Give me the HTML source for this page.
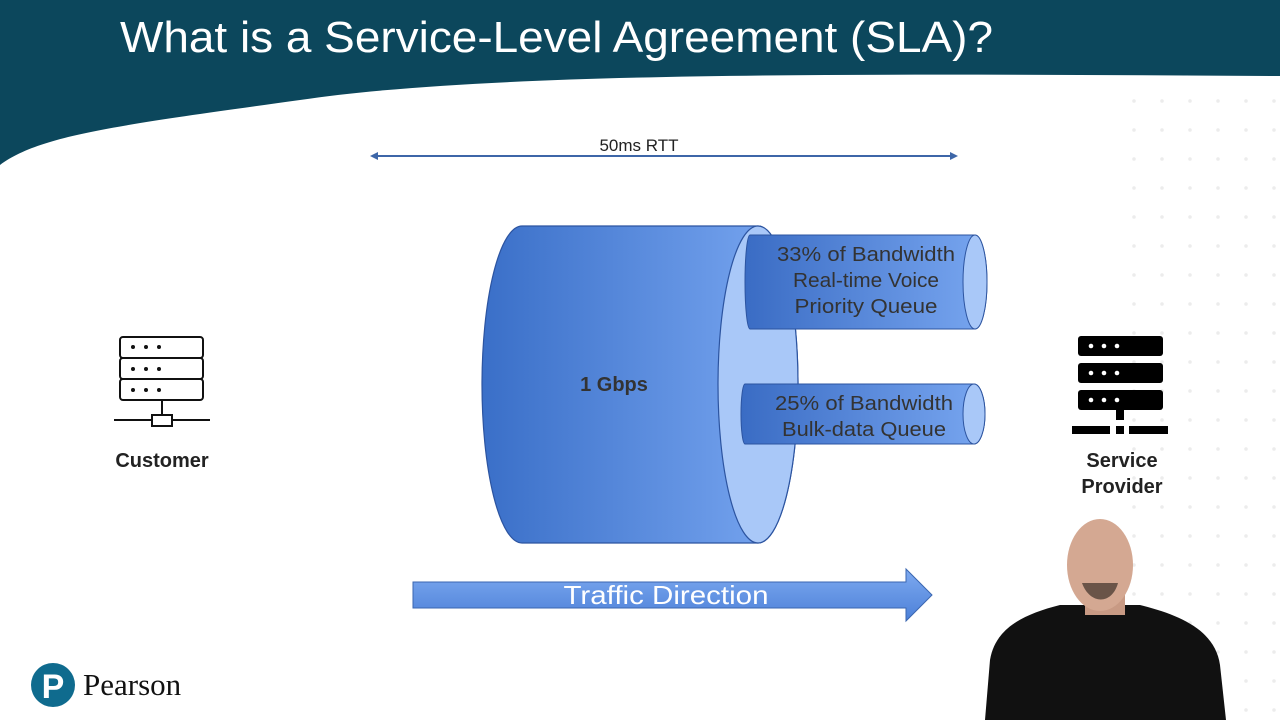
<!DOCTYPE html>
<html><head><meta charset="utf-8"><style>
html,body{margin:0;padding:0;width:1280px;height:720px;overflow:hidden;background:#fff}
text{font-family:"Liberation Sans",sans-serif}
</style></head><body>
<svg width="1280" height="720" viewBox="0 0 1280 720" xmlns="http://www.w3.org/2000/svg">
<defs>
<linearGradient id="g1" x1="0" x2="1" y1="0" y2="0"><stop offset="0" stop-color="#3a6fc8"/><stop offset="1" stop-color="#7aa8f2"/></linearGradient>
<linearGradient id="g2" x1="0" x2="1" y1="0" y2="0"><stop offset="0" stop-color="#3a6cc4"/><stop offset="1" stop-color="#78a6f0"/></linearGradient>
<linearGradient id="ga" x1="0" x2="0" y1="0" y2="1"><stop offset="0" stop-color="#7eaaf0"/><stop offset="1" stop-color="#4c80d8"/></linearGradient>
<pattern id="dots" width="28" height="29" patternUnits="userSpaceOnUse"><circle cx="14" cy="14" r="1.8" fill="#ececec"/></pattern>
</defs>
<rect x="1130" y="90" width="150" height="630" fill="url(#dots)"/>
<path d="M0,0 H1280 V76 C900,74 500,70 300,100 C120,125 40,135 0,165 Z" fill="#0c475c"/>
<text x="120" y="52" font-size="44" fill="#fff" textLength="873" lengthAdjust="spacingAndGlyphs">What is a Service-Level Agreement (SLA)?</text>
<line x1="376" y1="156" x2="952" y2="156" stroke="#3d66a8" stroke-width="2"/>
<polygon points="370,156 378,152 378,160" fill="#3d66a8"/>
<polygon points="958,156 950,152 950,160" fill="#3d66a8"/>
<text x="639" y="151" font-size="17" fill="#222" text-anchor="middle">50ms RTT</text>
<path d="M522,226 L758,226 A40,158.5 0 0 1 758,543 L522,543 A40,158.5 0 0 1 522,226 Z" fill="url(#g1)" stroke="#2c54a0" stroke-width="1.2"/>
<ellipse cx="758" cy="384.5" rx="40" ry="158.5" fill="#a9c8f8" stroke="#2c54a0" stroke-width="1.2"/>
<text x="614" y="391" font-size="20" font-weight="bold" fill="#333" text-anchor="middle">1 Gbps</text>
<path d="M750,235 L975,235 A12,47 0 0 1 975,329 L750,329 A5,47 0 0 1 750,235 Z" fill="url(#g2)" stroke="#2c54a0" stroke-width="1"/>
<ellipse cx="975" cy="282" rx="12" ry="47" fill="#a9c8f8" stroke="#2c54a0" stroke-width="1"/>
<text x="866" y="261" font-size="20" fill="#333" text-anchor="middle" textLength="178" lengthAdjust="spacingAndGlyphs">33% of Bandwidth</text>
<text x="866" y="287" font-size="20" fill="#333" text-anchor="middle" textLength="146" lengthAdjust="spacingAndGlyphs">Real-time Voice</text>
<text x="866" y="313" font-size="20" fill="#333" text-anchor="middle" textLength="143" lengthAdjust="spacingAndGlyphs">Priority Queue</text>
<path d="M745,384 L974,384 A11,30 0 0 1 974,444 L745,444 A4,30 0 0 1 745,384 Z" fill="url(#g2)" stroke="#2c54a0" stroke-width="1"/>
<ellipse cx="974" cy="414" rx="11" ry="30" fill="#a9c8f8" stroke="#2c54a0" stroke-width="1"/>
<text x="864" y="410" font-size="20" fill="#333" text-anchor="middle" textLength="178" lengthAdjust="spacingAndGlyphs">25% of Bandwidth</text>
<text x="864" y="436" font-size="20" fill="#333" text-anchor="middle" textLength="164" lengthAdjust="spacingAndGlyphs">Bulk-data Queue</text>
<path d="M413,582 H906 V569 L932,595 L906,621 V608 H413 Z" fill="url(#ga)" stroke="#3a66b0" stroke-width="1"/>
<text x="666" y="604" font-size="26" fill="#fff" text-anchor="middle" textLength="205" lengthAdjust="spacingAndGlyphs">Traffic Direction</text>
<g fill="none" stroke="#111" stroke-width="2">
<rect x="120" y="337" width="83" height="21" rx="3"/>
<rect x="120" y="358" width="83" height="21" rx="3"/>
<rect x="120" y="379" width="83" height="21" rx="3"/>
<line x1="162" y1="400" x2="162" y2="415"/>
<line x1="114" y1="420" x2="210" y2="420"/>
<rect x="152" y="415" width="20" height="11" fill="#fff"/>
</g>
<g fill="#111"><circle cx="133" cy="347" r="2"/><circle cx="146" cy="347" r="2"/><circle cx="159" cy="347" r="2"/>
<circle cx="133" cy="369" r="2"/><circle cx="146" cy="369" r="2"/><circle cx="159" cy="369" r="2"/>
<circle cx="133" cy="390" r="2"/><circle cx="146" cy="390" r="2"/><circle cx="159" cy="390" r="2"/></g>
<text x="162" y="467" font-size="20" font-weight="bold" fill="#222" text-anchor="middle">Customer</text>
<g fill="#000">
<rect x="1078" y="336" width="85" height="20" rx="3"/>
<rect x="1078" y="363" width="85" height="20" rx="3"/>
<rect x="1078" y="390" width="85" height="20" rx="3"/>
<rect x="1116" y="410" width="8" height="10"/>
<rect x="1072" y="426" width="38" height="8"/>
<rect x="1116" y="426" width="8" height="8"/>
<rect x="1129" y="426" width="39" height="8"/>
</g>
<g fill="#fff"><circle cx="1091" cy="346" r="2.3"/><circle cx="1104" cy="346" r="2.3"/><circle cx="1117" cy="346" r="2.3"/>
<circle cx="1091" cy="373" r="2.3"/><circle cx="1104" cy="373" r="2.3"/><circle cx="1117" cy="373" r="2.3"/>
<circle cx="1091" cy="400" r="2.3"/><circle cx="1104" cy="400" r="2.3"/><circle cx="1117" cy="400" r="2.3"/></g>
<text x="1122" y="467" font-size="20" font-weight="bold" fill="#222" text-anchor="middle">Service</text>
<text x="1122" y="493" font-size="20" font-weight="bold" fill="#222" text-anchor="middle">Provider</text>
<path d="M985,720 L990,660 C995,630 1020,615 1060,605 L1140,605 C1180,615 1215,630 1220,665 L1226,720 Z" fill="#111"/>
<rect x="1085" y="585" width="40" height="30" fill="#c89a84"/>
<ellipse cx="1100" cy="565" rx="33" ry="46" fill="#d4a892"/>
<path d="M1082,583 C1090,605 1112,605 1118,583 Z" fill="#6a5448"/>
<circle cx="53" cy="685" r="22" fill="#0f6b8e"/>
<text x="53" y="698" font-size="34" font-weight="bold" fill="#fff" text-anchor="middle">P</text>
<text x="83" y="695" font-size="31" fill="#111" style="font-family:'Liberation Serif',serif">Pearson</text>
</svg>
</body></html>
